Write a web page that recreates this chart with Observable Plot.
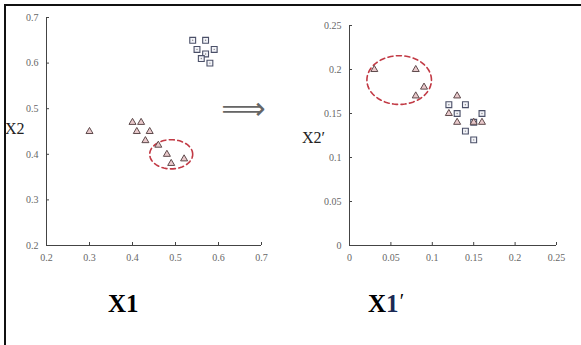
<!DOCTYPE html>
<html>
<head>
<meta charset="utf-8">
<script src="https://cdn.jsdelivr.net/npm/d3@7"></script>
<script src="https://cdn.jsdelivr.net/npm/@observablehq/plot@0.6"></script>
<style>
  html, body { margin: 0; padding: 0; background: #fff; overflow: hidden; }
  #wrap { position: relative; width: 581px; height: 345px; overflow: hidden; background: #fff; }
  #border { position: absolute; left: 4px; top: 4px; width: 700px; height: 500px;
            border-left: 2px solid #111; border-top: 2px solid #111; }
  .pl { position: absolute; top: 0; }
  .lab { position: absolute; font-family: "Liberation Serif", "DejaVu Serif", serif; color: #222; white-space: nowrap; }
  .big { position: absolute; font-family: "Liberation Serif", serif; font-weight: bold; color: #000; font-size: 25px; white-space: nowrap; }
</style>
</head>
<body>
<div id="wrap">
  <div id="border"></div>
  <div id="left" class="pl" style="left:0px"></div>
  <div id="right" class="pl" style="left:290px"></div>
  <div class="lab" style="left:5px; top:120px; font-size:16px;">X2</div>
  <div class="lab" style="left:302px; top:129px; font-size:16px;">X2′</div>
  <div class="big" style="left:108px; top:290px;">X1</div>
  <div class="big" style="left:368px; top:290px;">X<span style="color:#1b2a55">1</span><span style="font-weight:normal; font-style:italic; font-size:20px; vertical-align:top;">′</span></div>
</div>
<script>
// ---- Left panel (X1, X2) ----
const leftTriX = [0.30, 0.40, 0.42, 0.41, 0.44, 0.43, 0.46, 0.48, 0.49, 0.52];
const leftTriY = [0.45, 0.47, 0.47, 0.45, 0.45, 0.43, 0.42, 0.40, 0.38, 0.39];
const leftSqX  = [0.54, 0.57, 0.55, 0.59, 0.57, 0.56, 0.58];
const leftSqY  = [0.65, 0.65, 0.63, 0.63, 0.62, 0.61, 0.60];
const leftTicks = [0.2, 0.3, 0.4, 0.5, 0.6, 0.7];
const leftEllipse = {cx: 0.49, cy: 0.40, rx: 0.05, ry: 0.032};
const arrowPos = {x: 0.658, y: 0.5};

// ---- Right panel (X1', X2') ----
const rightTriX = [0.03, 0.08, 0.09, 0.08, 0.13, 0.12, 0.13, 0.15, 0.16];
const rightTriY = [0.20, 0.20, 0.18, 0.17, 0.17, 0.15, 0.14, 0.14, 0.14];
const rightSqX  = [0.12, 0.14, 0.13, 0.16, 0.15, 0.14, 0.15];
const rightSqY  = [0.16, 0.16, 0.15, 0.15, 0.14, 0.13, 0.12];
const rightTicks = [0, 0.05, 0.1, 0.15, 0.2, 0.25];
const rightEllipse = {cx: 0.06, cy: 0.188, rx: 0.039, ry: 0.0277};

const fmt = d => `${+d.toFixed(2)}`;
const zip = (xs, ys) => xs.map((x, i) => ({x, y: ys[i]}));
function ellipsePts(e) {
  const n = 72;
  return d3.range(n + 1).map(i => {
    const t = i / n * 2 * Math.PI;
    return {x: e.cx + e.rx * Math.cos(t), y: e.cy + e.ry * Math.sin(t)};
  });
}

const triStyle = {symbol: "triangle", r: 2.6, stroke: "#5e4a4c", fill: "#e9c9cb", strokeWidth: 1};
const sqStyle = {symbol: "square", r: 3.3, stroke: "#4b5068", fill: "#f2f3f8", strokeWidth: 1.1};
const axisFont = {fontSize: 10, fontFamily: "Liberation Serif, DejaVu Serif, serif", fill: "#666"};

function panel(o) {
  const tri = zip(o.triX, o.triY), sq = zip(o.sqX, o.sqY);
  const fw = o.width - o.ml - o.mr, fh = 270 - o.mt - 25;
  const marks = [
    Plot.ruleX([o.domain[0]], {y1: o.domain[0], y2: o.domain[1], stroke: "#444", strokeWidth: 1}),
    Plot.ruleY([o.domain[0]], {x1: o.domain[0], x2: o.domain[1], stroke: "#444", strokeWidth: 1}),
    Plot.tickX(o.ticks, {x: d => d, insetTop: fh - 3, stroke: "#444"}),
    Plot.tickY(o.ticks, {y: d => d, insetRight: fw - 3, stroke: "#444"}),
    Plot.axisX({ticks: o.ticks, tickFormat: fmt, tickSize: 0, tickPadding: 8, ...axisFont}),
    Plot.axisY({ticks: o.ticks, tickFormat: fmt, tickSize: 0, tickPadding: 8, ...axisFont}),
    Plot.line(ellipsePts(o.ellipse), {x: "x", y: "y", stroke: "#c23a45", strokeWidth: 1.6, strokeDasharray: "5,3.5", curve: "linear"}),
    Plot.dot(sq, {x: "x", y: "y", ...sqStyle}),
    Plot.dot(sq, {x: "x", y: "y", r: 0.7, fill: "#888", stroke: "none"}),
    Plot.dot(tri, {x: "x", y: "y", ...triStyle}),
  ];
  if (o.arrow) marks.push(Plot.text([o.arrow], {x: "x", y: "y", text: () => "⟹", fontSize: 31, fill: "#666", fontFamily: "DejaVu Sans"}));
  return Plot.plot({
    width: o.width, height: 270,
    marginLeft: o.ml, marginRight: o.mr, marginTop: o.mt, marginBottom: 25,
    x: {domain: o.domain, label: null},
    y: {domain: o.domain, label: null},
    style: {background: "transparent", overflow: "visible"},
    marks
  });
}

document.getElementById("left").append(panel({
  triX: leftTriX, triY: leftTriY, sqX: leftSqX, sqY: leftSqY,
  ticks: leftTicks, domain: [0.2, 0.7], ellipse: leftEllipse, arrow: arrowPos,
  width: 290, ml: 46, mr: 29, mt: 17
}));
document.getElementById("right").append(panel({
  triX: rightTriX, triY: rightTriY, sqX: rightSqX, sqY: rightSqY,
  ticks: rightTicks, domain: [0, 0.25], ellipse: rightEllipse, arrow: null,
  width: 291, ml: 59, mr: 25, mt: 25
}));
</script>
</body>
</html>
